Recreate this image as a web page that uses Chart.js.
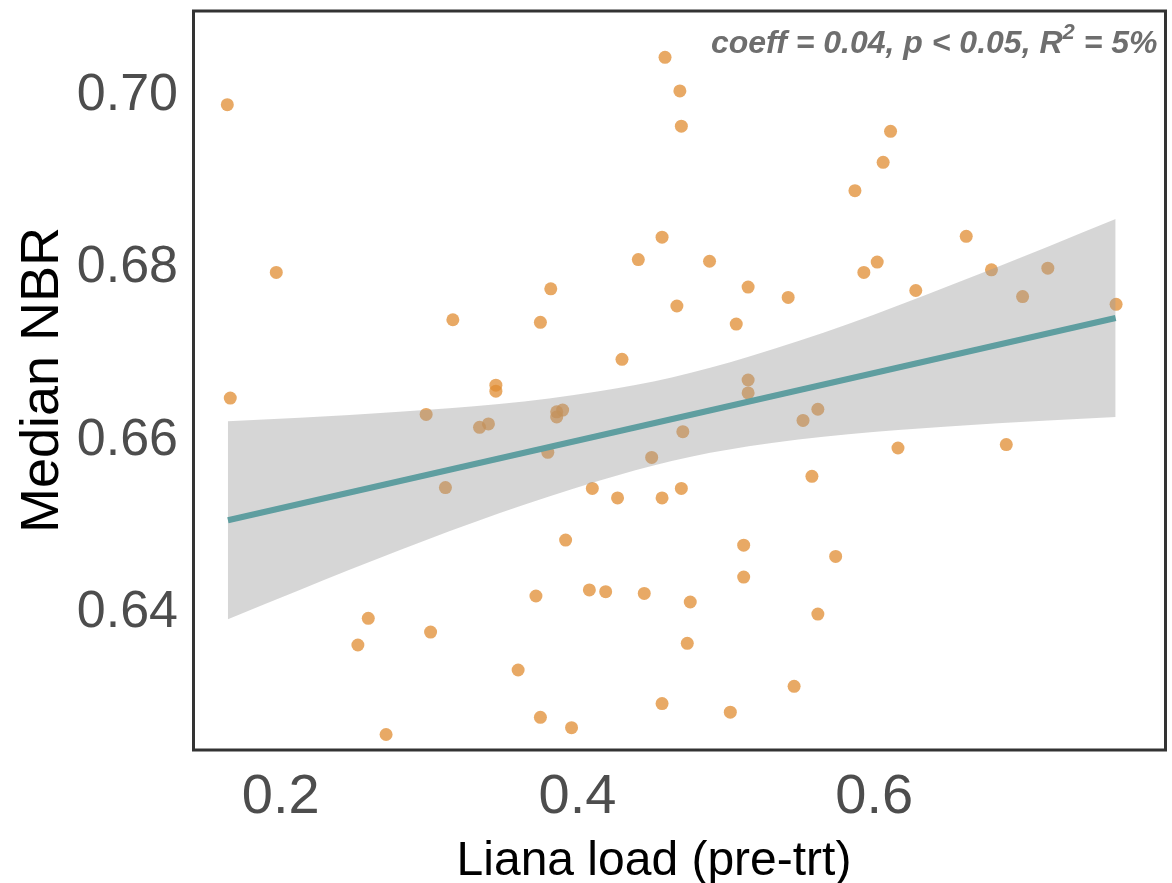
<!DOCTYPE html>
<html>
<head>
<meta charset="utf-8">
<script src="https://cdn.jsdelivr.net/npm/chart.js@4.4.1/dist/chart.umd.min.js"></script>
<style>
  html, body { margin: 0; padding: 0; background: #fff; }
  #wrap { width: 1172px; height: 883px; }
</style>
</head>
<body>
<div id="wrap"><canvas id="chart"></canvas></div>
<script>
// liana load (pre-treatment) vs median NBR, one entry per plot
const liana = [0.164, 0.197, 0.166, 0.316, 0.345, 0.345, 0.298, 0.334, 0.340, 0.311,
    0.259, 0.252, 0.301, 0.271, 0.459, 0.469, 0.470, 0.457, 0.441, 0.489,
    0.382, 0.375, 0.467, 0.515, 0.542, 0.507, 0.430, 0.515, 0.515, 0.386,
    0.390, 0.386, 0.380, 0.552, 0.562, 0.471, 0.450, 0.410, 0.427, 0.457,
    0.470, 0.558, 0.392, 0.512, 0.512, 0.372, 0.408, 0.419, 0.445, 0.476,
    0.562, 0.474, 0.360, 0.546, 0.457, 0.375, 0.396, 0.503, 0.611, 0.606,
    0.587, 0.662, 0.602, 0.593, 0.628, 0.679, 0.717, 0.700, 0.763, 0.616,
    0.689, 0.574];
const nbr = [0.6990, 0.6795, 0.6649, 0.6740, 0.6664, 0.6657, 0.6630, 0.6615, 0.6619, 0.6545,
    0.6393, 0.6362, 0.6377, 0.6258, 0.7045, 0.7006, 0.6965, 0.6836, 0.6810, 0.6808,
    0.6776, 0.6737, 0.6756, 0.6778, 0.6766, 0.6735, 0.6694, 0.6670, 0.6655, 0.6633,
    0.6635, 0.6627, 0.6586, 0.6623, 0.6636, 0.6610, 0.6580, 0.6544, 0.6533, 0.6533,
    0.6544, 0.6558, 0.6484, 0.6478, 0.6441, 0.6419, 0.6426, 0.6424, 0.6422, 0.6412,
    0.6398, 0.6364, 0.6333, 0.6314, 0.6294, 0.6278, 0.6266, 0.6284, 0.6959, 0.6923,
    0.6890, 0.6837, 0.6807, 0.6795, 0.6774, 0.6798, 0.6800, 0.6767, 0.6758, 0.6591,
    0.6595, 0.6465];

// fitted line and its confidence ribbon
const fitX = [0.1644, 0.7627];
const fitY = [0.6507, 0.6742];
const bandX = [0.1644, 0.2128, 0.2800, 0.3472, 0.4145, 0.4635, 0.5153, 0.5825, 0.6497, 0.7170, 0.7627];
const bandUpper = [0.6622, 0.6626, 0.6633, 0.6642, 0.6657, 0.6673, 0.6697, 0.6735, 0.6779, 0.6825, 0.6857];
const bandLower = [0.6392, 0.6426, 0.6472, 0.6515, 0.6553, 0.6576, 0.6593, 0.6607, 0.6616, 0.6623, 0.6627];

const xTicks = [0.2, 0.4, 0.6];
const yTicks = [0.64, 0.66, 0.68, 0.70];

const xTitle = 'Liana load (pre-trt)';
const statsText = ['coeff = 0.04, p < 0.05, R', '2', ' = 5%'];

const SANS = "'Liberation Sans', Arial, sans-serif";

function toPoints(xs, ys) {
    return xs.map((x, i) => ({ x: x, y: ys[i] }));
}

// box around the panel, x title and the stats label in the top right corner
const panelPlugin = {
    id: 'panelBox',
    afterDraw: function(chart) {
        const ctx = chart.ctx;
        const a = chart.chartArea;
        ctx.save();
        ctx.strokeStyle = '#333333';
        ctx.lineWidth = 3;
        ctx.strokeRect(a.left + 1.5, a.top + 1, a.right - a.left - 1.5, a.bottom - a.top - 1);

        // x axis title (sits a bit left of the panel centre in the original)
        ctx.fillStyle = '#000000';
        ctx.font = '48px ' + SANS;
        ctx.textAlign = 'center';
        ctx.textBaseline = 'alphabetic';
        ctx.fillText(xTitle, 654, 875);

        const big = 'italic bold 32px ' + SANS;
        const small = 'italic bold 22px ' + SANS;
        ctx.fillStyle = '#6E6E6E';
        ctx.textAlign = 'left';
        ctx.font = big;
        const w1 = ctx.measureText(statsText[0]).width;
        const w3 = ctx.measureText(statsText[2]).width;
        ctx.font = small;
        const w2 = ctx.measureText(statsText[1]).width;
        const right = a.right - 8;
        const base = 53;
        let x = right - (w1 + w2 + w3);
        ctx.font = big;
        ctx.fillText(statsText[0], x, base);
        x += w1;
        ctx.font = small;
        ctx.fillText(statsText[1], x, base - 14);
        x += w2;
        ctx.font = big;
        ctx.fillText(statsText[2], x, base);
        ctx.restore();
    }
};

const config = {
    type: 'scatter',
    data: {
        datasets: [
            {
                label: 'plots',
                data: toPoints(liana, nbr),
                backgroundColor: 'rgba(224, 140, 50, 0.75)',
                borderWidth: 0,
                pointRadius: 6.5,
                order: 3
            },
            {
                label: 'upper',
                data: toPoints(bandX, bandUpper),
                showLine: true,
                borderWidth: 0,
                borderColor: 'rgba(0,0,0,0)',
                pointRadius: 0,
                backgroundColor: 'rgba(153, 153, 153, 0.4)',
                fill: '+1',
                cubicInterpolationMode: 'monotone',
                order: 2
            },
            {
                label: 'lower',
                data: toPoints(bandX, bandLower),
                showLine: true,
                borderWidth: 0,
                borderColor: 'rgba(0,0,0,0)',
                pointRadius: 0,
                fill: false,
                cubicInterpolationMode: 'monotone',
                order: 2
            },
            {
                label: 'fit',
                data: toPoints(fitX, fitY),
                showLine: true,
                borderColor: '#5F9EA0',
                borderWidth: 6,
                pointRadius: 0,
                fill: false,
                order: 1
            }
        ]
    },
    plugins: [panelPlugin],
    options: {
        responsive: true,
        maintainAspectRatio: false,
        animation: false,
        layout: { padding: { top: 10, right: 4, left: 0, bottom: 0 } },
        plugins: {
            legend: { display: false },
            tooltip: { enabled: false }
        },
        scales: {
            x: {
                type: 'linear',
                min: 0.1402,
                max: 0.7963,
                grid: { display: false, drawTicks: false },
                border: { display: false },
                afterBuildTicks: function(scale) {
                    scale.ticks = xTicks.map(v => ({ value: v }));
                },
                afterFit: function(scale) {
                    scale.height = 133;
                    scale.paddingLeft = 0;
                    scale.paddingRight = 0;
                },
                ticks: {
                    color: '#4D4D4D',
                    padding: 14,
                    maxRotation: 0,
                    font: { family: SANS, size: 56 },
                    callback: v => v.toFixed(1)
                },
                title: { display: false }
            },
            y: {
                type: 'linear',
                min: 0.6240,
                max: 0.7100,
                grid: { display: false, drawTicks: false },
                border: { display: false },
                afterBuildTicks: function(scale) {
                    scale.ticks = yTicks.map(v => ({ value: v }));
                },
                afterFit: function(scale) {
                    scale.width = 192;
                    scale.paddingTop = 0;
                    scale.paddingBottom = 0;
                },
                ticks: {
                    color: '#4D4D4D',
                    padding: 14,
                    font: { family: SANS, size: 52 },
                    callback: v => v.toFixed(2)
                },
                title: {
                    display: true,
                    text: 'Median NBR',
                    color: '#000000',
                    padding: { top: 16 },
                    font: { family: SANS, size: 54, lineHeight: 1 }
                }
            }
        }
    }
};

const chart = new Chart(document.getElementById('chart'), config);
</script>
</body>
</html>
